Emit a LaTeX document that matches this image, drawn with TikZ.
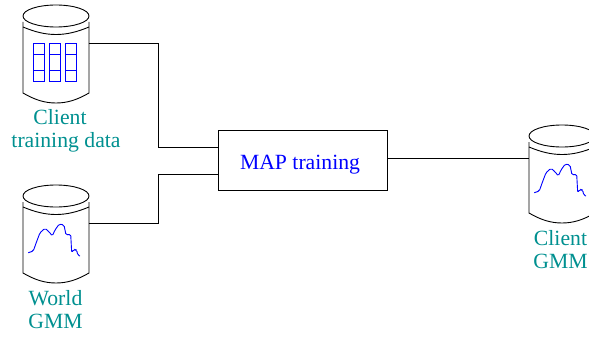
\documentclass[tikz,border=0pt]{standalone}
\usepackage{fontspec}
\setmainfont{Liberation Serif}
\definecolor{labelteal}{RGB}{0,144,144}
\tikzset{
  x=1pt,y=-1pt,
  edge/.style={draw=black,line width=0.9pt},
  body/.style={draw=black,line width=0.9pt},
  ink/.style={draw=blue,line width=0.9pt},
  lab/.style={text=labelteal,font=\fontsize{21.7}{23}\selectfont,align=center,inner sep=0pt,anchor=base},
  procbox/.style={draw=black,line width=0.9pt,minimum width=169pt,minimum height=60pt,inner sep=0pt,
    text height=18pt,text depth=0pt,text=blue,font=\fontsize{21.7}{23}\selectfont},
  pics/db/.style={code={
    \draw[body] (33,16) ellipse [x radius=33,y radius=11];
    \draw[body] (0,22) -- (0,93) .. controls (12,100) and (22,103) .. (33,103)
       .. controls (44,103) and (54,100) .. (66,93) -- (66,22);
    \draw[body] (0,27) .. controls (12,32) and (22,34.5) .. (33,34.5)
       .. controls (44,34.5) and (54,32) .. (66,27);
    \coordinate (-w) at (0,38);
    \coordinate (-e) at (65.5,43.5);
  }},
  pics/gmmcurve/.style={code={
    \draw[ink,rounded corners=1.5pt] (5.3,72.7) -- (10.3,71) -- (13,63.3) -- (17,52.7) -- (22,48.3) -- (26,51.7) -- (29.3,56) -- (32,50) -- (36.3,44) -- (41,45) -- (43,55) -- (47.7,54.3) -- (48.7,72.7) -- (51,69.3) -- (53.7,70) -- (54.7,75) -- (57,76);
  }}
}
\begin{document}
\begin{tikzpicture}
\useasboundingbox (0,0) rectangle (589,337);
% cylinders
\pic (cd) at (23,0) {db};
\pic (wg) at (23,180) {db};
\pic (cg) at (529,120) {db};
% data grid
\foreach \gx in {33.3,49.3,65.7}{
  \draw[ink] (\gx,43.5) rectangle ++(11,38);
  \draw[ink] (\gx,54.3) -- ++(11,0);
  \draw[ink] (\gx,70.8) -- ++(11,0);
}
% curves
\pic at (23,180) {gmmcurve};
\pic at (529,120) {gmmcurve};
% box
\node[procbox] (map) at (302.5,160) {MAP training\hspace*{5pt}};
% labels
\node[lab] (l1) at (66,147) {Client\hspace*{12pt}\\training data};
\node[lab] (l2) at (55.5,328) {World\\GMM};
\node[lab] (l3) at (560.5,268) {Client\\GMM};
% connectors
\coordinate (j1) at (158.5,147);
\coordinate (j2) at (158.5,174);
\draw[edge] (cd-e) -| (j1) -- (j1 -| map.west);
\draw[edge] (wg-e) -| (j2) -- (j2 -| map.west);
\draw[edge] (map.east |- cg-w) -- (cg-w);
\end{tikzpicture}
\end{document}
